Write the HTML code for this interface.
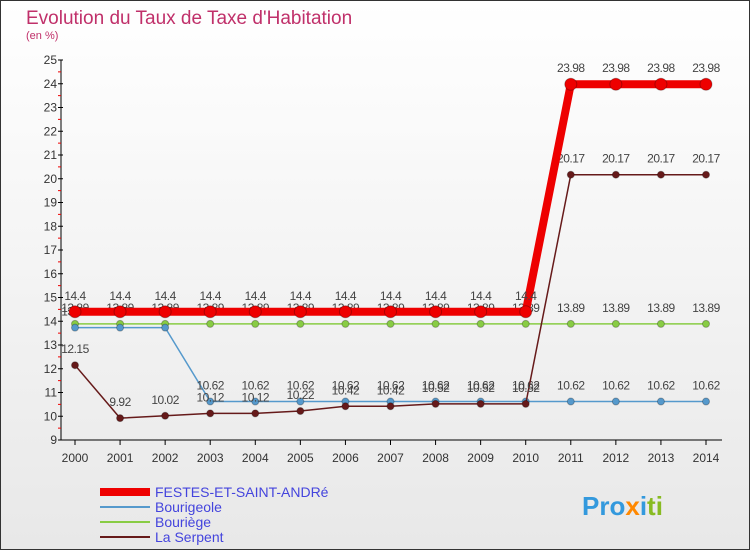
<!DOCTYPE html>
<html><head><meta charset="utf-8"><style>
body{margin:0;width:750px;height:550px;overflow:hidden;font-family:"Liberation Sans",sans-serif}
</style></head><body>
<svg width="750" height="550" xmlns="http://www.w3.org/2000/svg" font-family="Liberation Sans, sans-serif">
<defs><linearGradient id="bg" x1="0" y1="0" x2="0" y2="1"><stop offset="0" stop-color="#ffffff"/><stop offset="1" stop-color="#e8e8e8"/></linearGradient></defs>
<rect x="0.5" y="0.5" width="749" height="549" fill="url(#bg)" stroke="#333"/>
<text x="26" y="24" font-size="19" fill="#c0306a">Evolution du Taux de Taxe d'Habitation</text>
<text x="26" y="39" font-size="11" fill="#c0306a">(en %)</text>
<g id="axes"></g>
<g id="series"></g>
<g font-size="14" fill="#4444dd">
<line x1="100" y1="492" x2="150" y2="492" stroke="#ee0000" stroke-width="8"/>
<text x="155" y="497">FESTES-ET-SAINT-ANDRé</text>
<line x1="100" y1="507" x2="150" y2="507" stroke="#5599cc" stroke-width="2"/>
<text x="155" y="512">Bourigeole</text>
<line x1="100" y1="522" x2="150" y2="522" stroke="#88cc44" stroke-width="2"/>
<text x="155" y="527">Bouriège</text>
<line x1="100" y1="537" x2="150" y2="537" stroke="#661a1a" stroke-width="2"/>
<text x="155" y="542">La Serpent</text>
</g>
<text x="582" y="515" font-size="26" font-weight="bold"><tspan fill="#3399dd">Pro</tspan><tspan fill="#ff8800">x</tspan><tspan fill="#3399dd">i</tspan><tspan fill="#88bb22">ti</tspan></text>
</svg>
<script>
const years=[2000,2001,2002,2003,2004,2005,2006,2007,2008,2009,2010,2011,2012,2013,2014];
const yTicks=[9,10,11,12,13,14,15,16,17,18,19,20,21,22,23,24,25];
const festes=[14.4,14.4,14.4,14.4,14.4,14.4,14.4,14.4,14.4,14.4,14.4,23.98,23.98,23.98,23.98];
const bourigeole=[13.73,13.73,13.73,10.62,10.62,10.62,10.62,10.62,10.62,10.62,10.62,10.62,10.62,10.62,10.62];
const bouriege=[13.89,13.89,13.89,13.89,13.89,13.89,13.89,13.89,13.89,13.89,13.89,13.89,13.89,13.89,13.89];
const serpent=[12.15,9.92,10.02,10.12,10.12,10.22,10.42,10.42,10.52,10.52,10.52,20.17,20.17,20.17,20.17];
const NS="http://www.w3.org/2000/svg";
function X(i){return 75+i*(706-75)/(years.length-1);}
function Y(v){return 440-(v-9)*(380/16);}
function mk(p,t,a){const e=document.createElementNS(NS,t);for(const k in a)e.setAttribute(k,a[k]);p.appendChild(e);return e;}
const ax=document.getElementById('axes');
let l=mk(ax,'line',{x1:61,y1:Y(25),x2:61,y2:440,stroke:'#000'});


l=mk(ax,'line',{x1:61,y1:440,x2:722,y2:440,stroke:'#000'});


yTicks.forEach(v=>{
  const t=mk(ax,'text',{x:57,y:Y(v)+4,'font-size':12,fill:'#333','text-anchor':'end'});t.textContent=v;
  
  
  mk(ax,'line',{x1:58,y1:Y(v),x2:63,y2:Y(v),stroke:'#000'});
  if(v<25)mk(ax,'line',{x1:58,y1:Y(v+0.5),x2:61,y2:Y(v+0.5),stroke:'#e00'});
});
years.forEach((y,i)=>{
  mk(ax,'line',{x1:X(i),y1:440,x2:X(i),y2:445,stroke:'#000'});
  const t=mk(ax,'text',{x:X(i),y:462,'font-size':12,fill:'#333','text-anchor':'middle'});t.textContent=y;
  
  
});
const sg=document.getElementById('series');
function draw(vals,color,w,r,name){
  const g=mk(sg,'g',{});
  
  
  mk(g,'polyline',{points:vals.map((v,i)=>X(i)+','+Y(v)).join(' '),fill:'none',stroke:color,'stroke-width':w,'stroke-linejoin':'round'});
  vals.forEach((v,i)=>{
    const c=mk(g,'circle',{cx:X(i),cy:Y(v),r:r,fill:color,stroke:'#00000044'});
    
    
    const t=mk(g,'text',{x:X(i),y:Y(v)-12,'font-size':12,fill:'#444','text-anchor':'middle','letter-spacing':'-0.5'});t.textContent=v;
    
    
  });
}
draw(bouriege,'#88cc44',1.5,3.5,'series-bouriege');
draw(bourigeole,'#5599cc',1.5,3.5,'series-bourigeole');
draw(serpent,'#661a1a',1.5,3.5,'series-la-serpent');
draw(festes,'#ee0000',8,6,'series-festes');
</script>
</body></html>
